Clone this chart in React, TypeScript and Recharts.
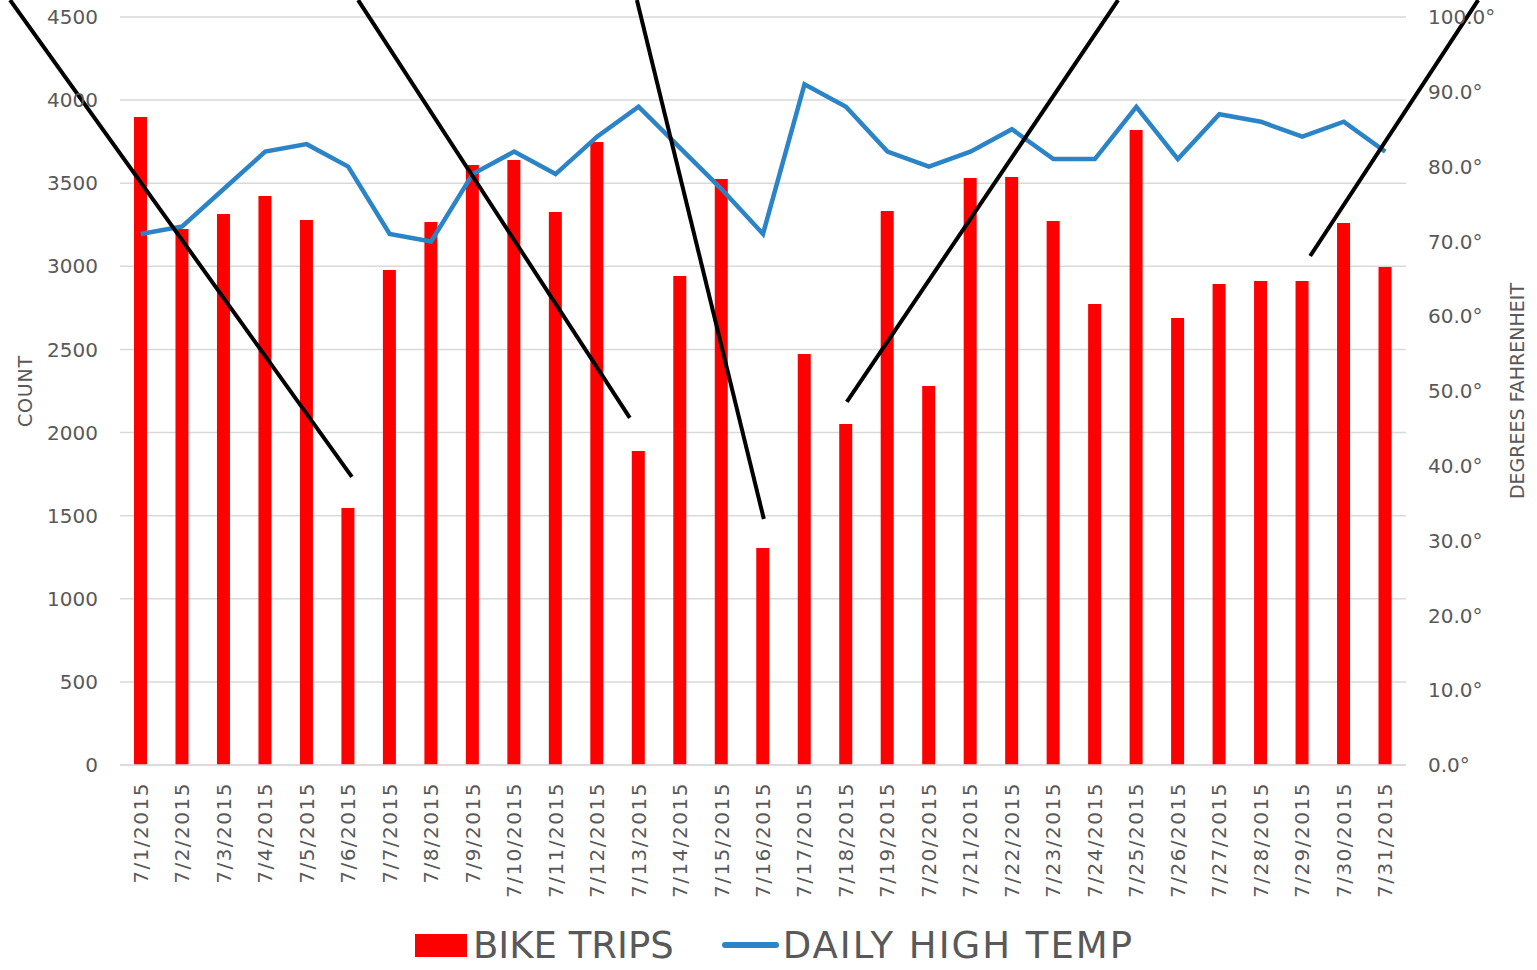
import React from 'react';
import {
  ComposedChart,
  Bar,
  Line,
  XAxis,
  YAxis,
  CartesianGrid,
  Legend,
  ReferenceLine,
} from 'recharts';

const dates = [
  '7/1/2015', '7/2/2015', '7/3/2015', '7/4/2015', '7/5/2015', '7/6/2015', '7/7/2015',
  '7/8/2015', '7/9/2015', '7/10/2015', '7/11/2015', '7/12/2015', '7/13/2015', '7/14/2015',
  '7/15/2015', '7/16/2015', '7/17/2015', '7/18/2015', '7/19/2015', '7/20/2015', '7/21/2015',
  '7/22/2015', '7/23/2015', '7/24/2015', '7/25/2015', '7/26/2015', '7/27/2015', '7/28/2015',
  '7/29/2015', '7/30/2015', '7/31/2015',
];

const bikeTrips = [
  3898, 3225, 3315, 3423, 3279, 1546, 2978, 3267, 3610, 3640, 3327, 3748, 1889, 2942,
  3525, 1305, 2473, 2051, 3333, 2280, 3531, 3537, 3273, 2773, 3820, 2689, 2894, 2912,
  2912, 3261, 2996,
];

const highTemp = [
  71, 72, 77, 82, 83, 80, 71, 70, 79, 82, 79, 84, 88, 82.5, 77, 71, 91, 88, 82, 80, 82,
  85, 81, 81, 88, 81, 87, 86, 84, 86, 82,
];

const countTicks = [0, 500, 1000, 1500, 2000, 2500, 3000, 3500, 4000, 4500];
const tempTicks = [0, 10, 20, 30, 40, 50, 60, 70, 80, 90, 100];
const boundaryTicks = Array.from({ length: dates.length + 1 }, (_, i) => i - 0.5);

// annotation strokes, in (day index, count) data coordinates
const annotations = [
  { x1: -3.15, y1: 4602, x2: 5.09, y2: 1733 },
  { x1: 5.24, y1: 4602, x2: 11.79, y2: 2088 },
  { x1: 11.96, y1: 4602, x2: 15.02, y2: 1480 },
  { x1: 23.56, y1: 4602, x2: 17.02, y2: 2184 },
  { x1: 32.24, y1: 4602, x2: 28.19, y2: 3062 },
];

const data = dates.map((d, i) => ({
  date: d,
  idx: i,
  trips: bikeTrips[i],
  temp: highTemp[i],
}));

const FONT = '"DejaVu Sans", sans-serif';
const GRAY = '#595959';
const BLUE = '#2b84c7';

const XTick = (props: any) => {
  const { x, y, payload } = props;
  return (
    <text
      x={x}
      y={y}
      transform={`rotate(-90 ${x} ${y})`}
      textAnchor="end"
      dominantBaseline="central"
      fill={GRAY}
      fontSize={20}
      letterSpacing={1.5}
      fontFamily={FONT}
    >
      {payload.value}
    </text>
  );
};

const NoTick = () => <g />;

const LeftLabel = (props: any) => {
  const vb = props.viewBox || {};
  const cx = vb.x + 5;
  const cy = vb.y + vb.height / 2;
  return (
    <text
      x={cx}
      y={cy}
      transform={`rotate(-90 ${cx} ${cy})`}
      textAnchor="middle"
      dominantBaseline="central"
      fill={GRAY}
      fontSize={19}
      letterSpacing={0.8}
      fontFamily={FONT}
    >
      COUNT
    </text>
  );
};

const RightLabel = (props: any) => {
  const vb = props.viewBox || {};
  const cx = vb.x + 111;
  const cy = vb.y + vb.height / 2;
  return (
    <text
      x={cx}
      y={cy}
      transform={`rotate(-90 ${cx} ${cy})`}
      textAnchor="middle"
      dominantBaseline="central"
      fill={GRAY}
      fontSize={19}
      fontFamily={FONT}
    >
      DEGREES FAHRENHEIT
    </text>
  );
};

const LegendContent = () => (
  <div
    style={{
      height: 50,
      display: 'flex',
      justifyContent: 'center',
      alignItems: 'center',
      fontFamily: FONT,
      fontSize: 37,
      color: GRAY,
      whiteSpace: 'nowrap',
      paddingRight: 8,
    }}
  >
    <div style={{ width: 52, height: 23, background: '#ff0000', marginRight: 6 }} />
    <span>BIKE TRIPS</span>
    <svg width={57} height={8} style={{ marginLeft: 48, marginRight: 4 }}>
      <line x1={3} y1={4} x2={54} y2={4} stroke={BLUE} strokeWidth={6} strokeLinecap="round" />
    </svg>
    <span style={{ letterSpacing: 2 }}>DAILY HIGH TEMP</span>
  </div>
);

export default function App() {
  return (
    <div style={{ position: 'absolute', top: 0, left: 0, width: 1537, height: 970, background: '#fff' }}>
      <ComposedChart
        width={1537}
        height={970}
        data={data}
        margin={{ top: 17, right: 0, bottom: 0, left: 20 }}
      >
        <CartesianGrid vertical={false} stroke="#d9d9d9" strokeWidth={1.5} yAxisId="left" xAxisId="cat" />
        <XAxis
          xAxisId="idx"
          dataKey="idx"
          type="number"
          domain={[-0.5, dates.length - 0.5]}
          ticks={boundaryTicks}
          interval={0}
          allowDataOverflow
          height={0}
          axisLine={false}
          tickLine={{ stroke: '#d0d0d0', strokeWidth: 1.5 }}
          tickSize={7}
          tick={NoTick}
        />
        <XAxis
          xAxisId="cat"
          dataKey="date"
          type="category"
          interval={0}
          height={155}
          axisLine={{ stroke: '#d9d9d9', strokeWidth: 1.5 }}
          tickLine={false}
          tickSize={6}
          tickMargin={11}
          tick={XTick}
        />
        <YAxis
          yAxisId="left"
          orientation="left"
          width={100}
          domain={[0, 4500]}
          ticks={countTicks}
          interval={0}
          axisLine={false}
          tickLine={false}
          tickSize={6}
          tickMargin={16}
          tick={{ fill: GRAY, fontSize: 20, fontFamily: FONT }}
          label={LeftLabel}
        />
        <YAxis
          yAxisId="right"
          orientation="right"
          width={131}
          domain={[0, 100]}
          ticks={tempTicks}
          interval={0}
          axisLine={false}
          tickLine={false}
          tickSize={6}
          tickMargin={16}
          tickFormatter={(v: number) => `${v.toFixed(1)}°`}
          tick={{ fill: GRAY, fontSize: 20, fontFamily: FONT, textAnchor: 'start' }}
          label={RightLabel}
        />
        <Bar
          xAxisId="cat"
          yAxisId="left"
          dataKey="trips"
          name="BIKE TRIPS"
          fill="#ff0000"
          barSize={13}
          isAnimationActive={false}
        />
        <Line
          xAxisId="cat"
          yAxisId="right"
          dataKey="temp"
          name="DAILY HIGH TEMP"
          type="linear"
          stroke={BLUE}
          strokeWidth={4.5}
          dot={false}
          activeDot={false}
          isAnimationActive={false}
        />
        {annotations.map((a, i) => (
          <ReferenceLine
            key={i}
            xAxisId="idx"
            yAxisId="left"
            segment={[
              { x: a.x1, y: a.y1 },
              { x: a.x2, y: a.y2 },
            ]}
            stroke="#000000"
            strokeWidth={4}
            ifOverflow="visible"
          />
        ))}
        <Legend verticalAlign="bottom" content={LegendContent} />
      </ComposedChart>
    </div>
  );
}
